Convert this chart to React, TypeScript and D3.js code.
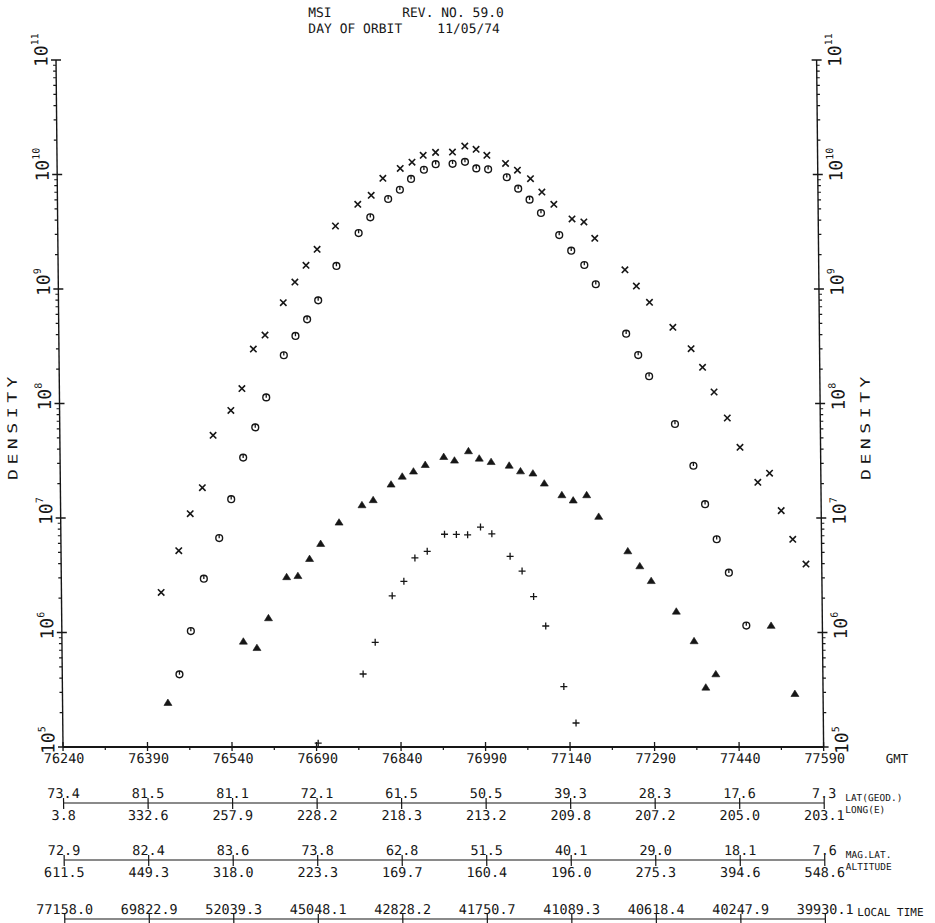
import { useEffect, useRef } from "react"
import * as d3 from "d3"

// GMT (s) and density for each plotted species
const crossPoints: [number, number][] = [
  [76417, 2.24e6], [76449, 5.18e6], [76470, 1.09e7], [76492, 1.84e7], [76512, 5.27e7], [76544, 8.69e7],
  [76564, 1.35e8], [76585, 2.99e8], [76606, 3.96e8], [76639, 7.59e8], [76660, 1.15e9], [76680, 1.61e9],
  [76700, 2.22e9], [76733, 3.55e9], [76773, 5.49e9], [76797, 6.58e9], [76818, 9.27e9], [76849, 1.13e10],
  [76870, 1.28e10], [76890, 1.47e10], [76912, 1.56e10], [76942, 1.57e10], [76964, 1.77e10], [76984, 1.66e10],
  [77003, 1.47e10], [77036, 1.25e10], [77057, 1.09e10], [77080, 9.19e9], [77100, 7.03e9], [77121, 5.49e9],
  [77153, 4.09e9], [77174, 3.85e9], [77193, 2.77e9], [77246, 1.47e9], [77266, 1.06e9], [77289, 7.65e8],
  [77330, 4.63e8], [77362, 3.01e8], [77382, 2.07e8], [77402, 1.26e8], [77425, 7.47e7], [77447, 4.14e7],
  [77478, 2.05e7], [77499, 2.46e7], [77519, 1.16e7], [77539, 6.52e6], [77562, 3.96e6],
]

const circlePoints: [number, number][] = [
  [76448, 4.31e5], [76469, 1.03e6], [76493, 2.95e6], [76521, 6.68e6], [76543, 1.46e7], [76565, 3.37e7],
  [76587, 6.19e7], [76607, 1.13e8], [76639, 2.64e8], [76660, 3.89e8], [76681, 5.43e8], [76701, 7.96e8],
  [76734, 1.59e9], [76774, 3.08e9], [76795, 4.23e9], [76827, 6.11e9], [76848, 7.36e9], [76868, 9.14e9],
  [76891, 1.1e10], [76912, 1.23e10], [76942, 1.24e10], [76964, 1.29e10], [76984, 1.13e10], [77005, 1.11e10],
  [77038, 9.46e9], [77058, 7.52e9], [77078, 6.03e9], [77098, 4.61e9], [77130, 2.96e9], [77151, 2.16e9],
  [77174, 1.62e9], [77194, 1.1e9], [77247, 4.07e8], [77268, 2.65e8], [77287, 1.73e8], [77332, 6.62e7],
  [77364, 2.86e7], [77384, 1.32e7], [77404, 6.52e6], [77425, 3.33e6], [77455, 1.15e6],
]

const trianglePoints: [number, number][] = [
  [76427, 2.44e5], [76562, 8.37e5], [76586, 7.36e5], [76607, 1.34e6], [76640, 3.06e6], [76660, 3.13e6],
  [76681, 4.41e6], [76701, 5.97e6], [76734, 9.17e6], [76775, 1.3e7], [76795, 1.44e7], [76827, 1.97e7],
  [76847, 2.31e7], [76867, 2.56e7], [76888, 2.92e7], [76921, 3.43e7], [76940, 3.19e7], [76965, 3.85e7],
  [76984, 3.32e7], [77005, 3.1e7], [77037, 2.88e7], [77057, 2.57e7], [77079, 2.46e7], [77099, 2.01e7],
  [77130, 1.59e7], [77150, 1.43e7], [77174, 1.59e7], [77195, 1.03e7], [77246, 5.15e6], [77267, 3.81e6],
  [77287, 2.83e6], [77331, 1.53e6], [77362, 8.44e5], [77382, 3.32e5], [77400, 4.34e5], [77499, 1.15e6],
  [77540, 2.92e5],
]

const plusPoints: [number, number][] = [
  [76693, 1.08e5], [76774, 4.34e5], [76796, 8.2e5], [76827, 2.09e6], [76848, 2.8e6], [76868, 4.48e6],
  [76890, 5.12e6], [76921, 7.21e6], [76942, 7.18e6], [76962, 7.13e6], [76985, 8.34e6], [77005, 7.28e6],
  [77037, 4.63e6], [77058, 3.44e6], [77078, 2.06e6], [77099, 1.14e6], [77130, 3.37e5], [77151, 1.62e5],
]

// axis ticks and the orbit tables under the plot
const gmtTicks = [76240, 76390, 76540, 76690, 76840, 76990, 77140, 77290, 77440, 77590]
const decades = [5, 6, 7, 8, 9, 10, 11]
const latGeod = ["73.4", "81.5", "81.1", "72.1", "61.5", "50.5", "39.3", "28.3", "17.6", "7.3"]
const longE = ["3.8", "332.6", "257.9", "228.2", "218.3", "213.2", "209.8", "207.2", "205.0", "203.1"]
const magLat = ["72.9", "82.4", "83.6", "73.8", "62.8", "51.5", "40.1", "29.0", "18.1", "7.6"]
const altitude = ["611.5", "449.3", "318.0", "223.3", "169.7", "160.4", "196.0", "275.3", "394.6", "548.6"]
const localTime = ["77158.0", "69822.9", "52039.3", "45048.1", "42828.2", "41750.7", "41089.3", "40618.4", "40247.9", "39930.1"]

const FONT = "'DejaVu Sans Mono', monospace"
const INK = "#161616"

export default function App() {
  const svgRef = useRef<SVGSVGElement>(null)

  useEffect(() => {
    if (!svgRef.current) return
    const svg = d3.select(svgRef.current)
    svg.selectAll("*").remove()

    const left = 55.4
    const right = 816
    const top = 60
    const bottom = 747

    const x = d3.scaleLinear().domain([76240, 77590]).range([left, right])
    const y = d3.scaleLog().domain([1e5, 1e11]).range([bottom, top])

    // the scanned sheet leans a little, so shear the whole drawing
    const g = svg.append("g").attr("transform", "skewX(0.584)")

    // title
    const title = g.append("g").attr("font-family", FONT).attr("font-size", 13).attr("fill", INK)
    title.append("text").attr("x", 308).attr("y", 17).text("MSI")
    title.append("text").attr("x", 402).attr("y", 17).text("REV. NO. 59.0")
    title.append("text").attr("x", 308).attr("y", 33).text("DAY OF ORBIT")
    title.append("text").attr("x", 437).attr("y", 33).text("11/05/74")

    // vertical axes
    const minor: number[] = []
    decades.slice(0, -1).forEach((d) => {
      for (let m = 2; m <= 9; m++) minor.push(m * Math.pow(10, d))
    })

    ;[
      { ax: left, dir: -1, labelX: left - 8.5 },
      { ax: right, dir: 1, labelX: right + 24.5 },
    ].forEach(({ ax, dir, labelX }) => {
      g.append("line")
        .attr("x1", ax).attr("x2", ax)
        .attr("y1", top).attr("y2", bottom)
        .attr("stroke", INK).attr("stroke-width", 1.4)

      g.selectAll(null)
        .data(minor)
        .enter()
        .append("line")
        .attr("x1", ax).attr("x2", ax + dir * 3)
        .attr("y1", (d) => y(d)).attr("y2", (d) => y(d))
        .attr("stroke", INK).attr("stroke-width", 1.2)

      g.selectAll(null)
        .data(decades)
        .enter()
        .append("line")
        .attr("x1", ax - 5).attr("x2", ax + 5)
        .attr("y1", (d) => y(Math.pow(10, d))).attr("y2", (d) => y(Math.pow(10, d)))
        .attr("stroke", INK).attr("stroke-width", 1.3)

      const lbl = g.selectAll(null)
        .data(decades)
        .enter()
        .append("text")
        .attr("transform", (d) => `translate(${labelX},${y(Math.pow(10, d)) + 7}) rotate(-90)`)
        .attr("font-family", FONT)
        .attr("font-size", 18)
        .attr("fill", INK)
      lbl.append("tspan").text("10")
      lbl.append("tspan").attr("dy", -9).attr("font-size", 10).text((d) => String(d))
    })

    // DENSITY titles
    ;[12.7, 865.7].forEach((bx) => {
      g.append("text")
        .attr("transform", `translate(${bx},${426}) rotate(-90) scale(1.4,1)`)
        .attr("text-anchor", "middle")
        .attr("font-family", FONT)
        .attr("font-size", 13)
        .attr("letter-spacing", 3.2)
        .attr("fill", INK)
        .text("DENSITY")
    })

    // GMT axis
    g.append("line")
      .attr("x1", left).attr("x2", right)
      .attr("y1", bottom).attr("y2", bottom)
      .attr("stroke", INK).attr("stroke-width", 1.8)

    g.selectAll(null)
      .data(gmtTicks)
      .enter()
      .append("line")
      .attr("x1", (d) => x(d)).attr("x2", (d) => x(d))
      .attr("y1", bottom - 5).attr("y2", bottom + 4)
      .attr("stroke", INK).attr("stroke-width", 1.3)

    g.selectAll(null)
      .data(gmtTicks.slice(0, -1).map((d) => d + 75))
      .enter()
      .append("line")
      .attr("x1", (d) => x(d)).attr("x2", (d) => x(d))
      .attr("y1", bottom).attr("y2", bottom + 3)
      .attr("stroke", INK).attr("stroke-width", 1.2)

    g.selectAll(null)
      .data(gmtTicks)
      .enter()
      .append("text")
      .attr("x", (d) => x(d) + 1)
      .attr("y", bottom + 16)
      .attr("text-anchor", "middle")
      .attr("font-family", FONT)
      .attr("font-size", 13.5)
      .attr("fill", INK)
      .text((d) => String(d))

    g.append("text")
      .attr("x", right + 62).attr("y", bottom + 16)
      .attr("font-family", FONT).attr("font-size", 12.5).attr("fill", INK)
      .text("GMT")

    // orbit parameter rows
    const rows = [
      { line: 803, upper: latGeod, lower: longE, names: ["LAT(GEOD.)", "LONG(E)"] },
      { line: 860, upper: magLat, lower: altitude, names: ["MAG.LAT.", "ALTITUDE"] },
      { line: 919, upper: localTime, lower: null as string[] | null, names: ["LOCAL TIME"] },
    ]

    rows.forEach((row) => {
      g.append("line")
        .attr("x1", x(gmtTicks[0])).attr("x2", x(gmtTicks[gmtTicks.length - 1]))
        .attr("y1", row.line).attr("y2", row.line)
        .attr("stroke", INK).attr("stroke-width", 1.2)

      g.selectAll(null)
        .data(gmtTicks)
        .enter()
        .append("line")
        .attr("x1", (d) => x(d)).attr("x2", (d) => x(d))
        .attr("y1", row.line - 5).attr("y2", row.line + 6)
        .attr("stroke", INK).attr("stroke-width", 1.2)

      g.selectAll(null)
        .data(row.upper)
        .enter()
        .append("text")
        .attr("x", (_, i) => x(gmtTicks[i]))
        .attr("y", row.line - 5)
        .attr("text-anchor", "middle")
        .attr("font-family", FONT).attr("font-size", 13.5).attr("fill", INK)
        .text((d) => d)

      if (row.lower) {
        g.selectAll(null)
          .data(row.lower)
          .enter()
          .append("text")
          .attr("x", (_, i) => x(gmtTicks[i]))
          .attr("y", row.line + 17)
          .attr("text-anchor", "middle")
          .attr("font-family", FONT).attr("font-size", 13.5).attr("fill", INK)
          .text((d) => d)
      }

      if (row.names.length === 2) {
        row.names.forEach((name, i) => {
          g.append("text")
            .attr("x", right + 21)
            .attr("y", row.line - 2 + i * 12)
            .attr("font-family", FONT).attr("font-size", 9.5).attr("fill", INK)
            .text(name)
        })
      } else {
        g.append("text")
          .attr("x", right + 32)
          .attr("y", row.line - 3)
          .attr("font-family", FONT).attr("font-size", 11).attr("fill", INK)
          .text(row.names[0])
      }
    })

    // data markers
    const marks = g.append("g").attr("stroke", INK).attr("fill", "none")

    crossPoints.forEach(([t, v]) => {
      const cx = x(t), cy = y(v)
      marks.append("path")
        .attr("d", `M${cx - 3.2},${cy - 3.2}L${cx + 3.2},${cy + 3.2}M${cx - 3.2},${cy + 3.2}L${cx + 3.2},${cy - 3.2}`)
        .attr("stroke-width", 1.6)
    })

    circlePoints.forEach(([t, v]) => {
      const cx = x(t), cy = y(v)
      marks.append("circle").attr("cx", cx).attr("cy", cy).attr("r", 3.4).attr("stroke-width", 1.4)
      marks.append("line")
        .attr("x1", cx).attr("x2", cx)
        .attr("y1", cy - 3.6).attr("y2", cy + 0.3)
        .attr("stroke-width", 1.3)
    })

    trianglePoints.forEach(([t, v]) => {
      const cx = x(t), cy = y(v)
      marks.append("path")
        .attr("d", `M${cx},${cy - 3.6}L${cx + 4},${cy + 2.8}L${cx - 4},${cy + 2.8}Z`)
        .attr("fill", INK)
        .attr("stroke-width", 0.6)
    })

    plusPoints.forEach(([t, v]) => {
      const cx = x(t), cy = y(v)
      marks.append("path")
        .attr("d", `M${cx - 3.5},${cy}L${cx + 3.5},${cy}M${cx},${cy - 3.5}L${cx},${cy + 3.5}`)
        .attr("stroke-width", 1.3)
    })
  }, [])

  return (
    <svg
      ref={svgRef}
      width={935}
      height={923}
      style={{ position: "absolute", left: 0, top: 0, background: "#fff" }}
    />
  )
}
